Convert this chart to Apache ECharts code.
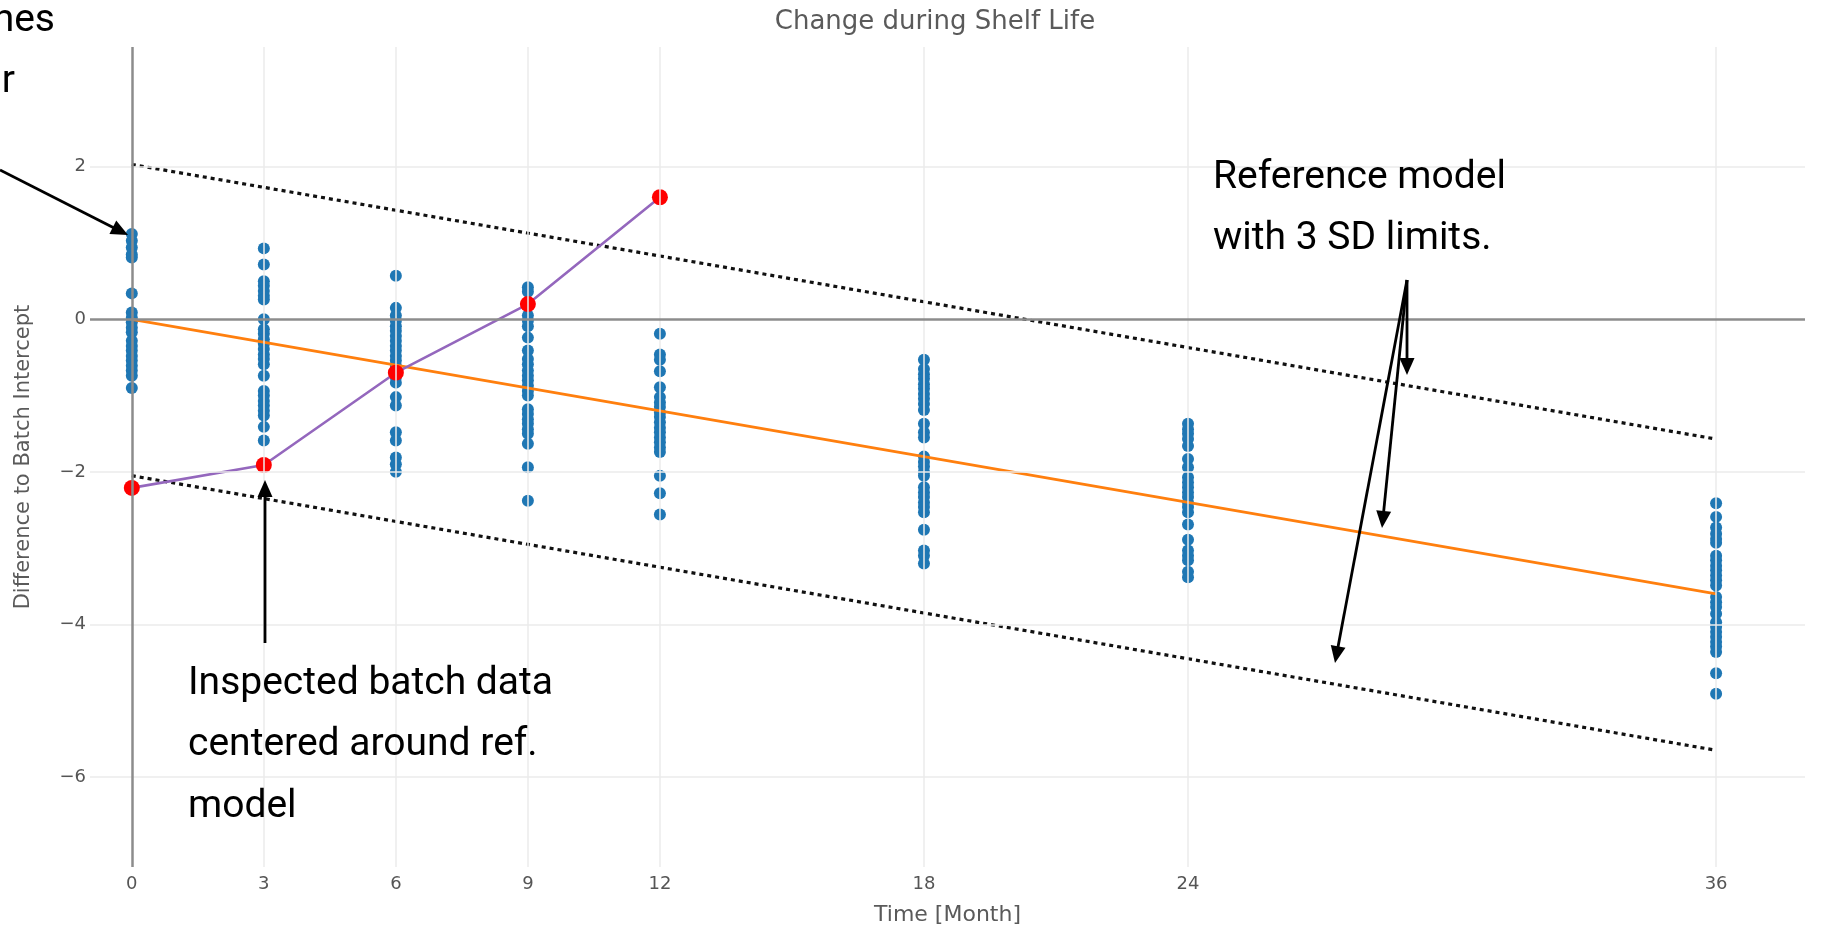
<!DOCTYPE html>
<html>
<head>
<meta charset="utf-8">
<title>Change during Shelf Life</title>
<script src="https://cdn.jsdelivr.net/npm/echarts@6/dist/echarts.min.js"></script>
<style>
    html, body { margin: 0; padding: 0; background: #fff; }
    #main { width: 1829px; height: 931px; }
</style>
</head>
<body>
<div id="main"></div>
<script>
// 时间点(月)
var months = [0, 3, 6, 9, 12, 18, 24, 36];

// 各时间点所有批次与批次截距之差
var month0 = [1.12, 1.03, 0.94, 0.85, 0.81, 0.34, 0.09, 0.02, -0.04, -0.11, -0.17, -0.28, -0.35, -0.41, -0.48, -0.54, -0.61, -0.67, -0.74, -0.90];
var month3 = [0.93, 0.72, 0.50, 0.44, 0.37, 0.31, 0.26, 0.00, -0.13, -0.19, -0.26, -0.32, -0.39, -0.46, -0.52, -0.59, -0.74, -0.94, -1.00, -1.07, -1.13, -1.20, -1.26, -1.41, -1.59];
var month6 = [0.57, 0.15, 0.05, -0.02, -0.09, -0.15, -0.22, -0.28, -0.35, -0.41, -0.48, -0.54, -0.61, -0.76, -0.83, -1.02, -1.13, -1.48, -1.59, -1.81, -1.90, -2.00];
var month9 = [0.42, 0.36, 0.05, -0.02, -0.09, -0.24, -0.41, -0.52, -0.59, -0.67, -0.74, -0.80, -0.87, -0.94, -1.00, -1.18, -1.24, -1.31, -1.37, -1.44, -1.50, -1.63, -1.94, -2.38];
var month12 = [-0.19, -0.46, -0.53, -0.68, -0.89, -1.02, -1.09, -1.15, -1.22, -1.28, -1.35, -1.42, -1.48, -1.55, -1.61, -1.68, -1.74, -2.05, -2.28, -2.56];
var month18 = [-0.53, -0.65, -0.72, -0.78, -0.85, -0.91, -0.98, -1.04, -1.11, -1.19, -1.37, -1.48, -1.55, -1.80, -1.87, -1.93, -2.00, -2.05, -2.20, -2.27, -2.33, -2.40, -2.46, -2.53, -2.76, -3.03, -3.10, -3.20];
var month24 = [-1.37, -1.44, -1.50, -1.57, -1.66, -1.83, -1.94, -2.07, -2.14, -2.20, -2.27, -2.33, -2.40, -2.46, -2.53, -2.69, -2.89, -3.03, -3.10, -3.16, -3.31, -3.38];
var month36 = [-2.41, -2.59, -2.73, -2.81, -2.88, -2.93, -3.10, -3.16, -3.23, -3.29, -3.36, -3.42, -3.49, -3.64, -3.71, -3.77, -3.86, -3.97, -4.03, -4.10, -4.16, -4.23, -4.29, -4.36, -4.64, -4.91];

// 参考模型及 3 SD 界限
var refMonths = [0, 36];
var refModel = [0, -3.6];
var upperLimit = [2.03, -1.57];
var lowerLimit = [-2.05, -5.65];

// 被检批次
var inspMonths = [0, 3, 6, 9, 12];
var inspValues = [-2.21, -1.91, -0.70, 0.20, 1.60];

// 刻度
var xTicks = [0, 3, 6, 9, 12, 18, 24, 36];
var yTicks = [-6, -4, -2, 0, 2];

(function () {

    var chart = echarts.init(document.getElementById('main'));

    var columns = [month0, month3, month6, month9, month12, month18, month24, month36];
    var scatterData = [];
    for (var i = 0; i < months.length; i++) {
        for (var j = 0; j < columns[i].length; j++) {
            scatterData.push([months[i], columns[i][j]]);
        }
    }

    function pairs(xs, ys) {
        var res = [];
        for (var i = 0; i < xs.length; i++) {
            res.push([xs[i], ys[i]]);
        }
        return res;
    }

    // 网格线
    var gridLines = [];
    xTicks.forEach(function (x) {
        if (x !== 0) gridLines.push({xAxis: x});
    });
    yTicks.forEach(function (y) {
        if (y !== 0) gridLines.push({yAxis: y});
    });

    // 箭头
    function arrow(x1, y1, x2, y2) {
        var dx = x2 - x1, dy = y2 - y1;
        var len = Math.sqrt(dx * dx + dy * dy);
        var ux = dx / len, uy = dy / len;
        var hl = 17, hw = 7.5;
        var bx = x2 - ux * hl, by = y2 - uy * hl;
        return [
            {
                type: 'line',
                shape: {x1: x1, y1: y1, x2: bx + ux * 2, y2: by + uy * 2},
                style: {stroke: '#000', lineWidth: 2.8},
                z: 100
            },
            {
                type: 'polygon',
                shape: {points: [[x2, y2], [bx - uy * hw, by + ux * hw], [bx + uy * hw, by - ux * hw]]},
                style: {fill: '#000'},
                z: 100
            }
        ];
    }

    function label(text, x, y, align) {
        return {
            type: 'text',
            z: 100,
            style: {
                text: text,
                x: x,
                y: y,
                fill: '#000',
                font: '39px Roboto',
                lineHeight: 61.5,
                textAlign: align || 'left',
                textVerticalAlign: 'top'
            }
        };
    }

    var graphics = [].concat(
        arrow(0, 170, 128, 235),
        arrow(265, 643, 265, 480),
        arrow(1407, 280, 1407, 375),
        arrow(1407, 280, 1382, 528),
        arrow(1407, 280, 1335, 663),
        [
            label('hes', 55, -10, 'right'),
            label('ir', 15, 51, 'right'),
            label('Reference model\nwith 3 SD limits.', 1213, 147),
            label('Inspected batch data\ncentered around ref.\nmodel', 188, 653)
        ]
    );

    var axisFont = 'DejaVu Sans';

    var option = {
        animation: false,
        backgroundColor: '#fff',
        title: {
            text: 'Change during Shelf Life',
            left: 930,
            top: 4,
            textAlign: 'center',
            textStyle: {
                fontFamily: axisFont,
                fontSize: 26,
                fontWeight: 'normal',
                color: '#5a5a5a'
            }
        },
        grid: {
            left: 90,
            right: 24,
            top: 47,
            bottom: 63
        },
        xAxis: {
            type: 'value',
            min: -0.95,
            max: 38.02,
            name: 'Time [Month]',
            nameLocation: 'middle',
            nameGap: 37,
            nameTextStyle: {fontFamily: axisFont, fontSize: 22, color: '#5a5a5a'},
            axisLine: {show: false},
            axisTick: {show: false},
            splitLine: {show: false},
            axisLabel: {
                customValues: xTicks,
                margin: 8,
                fontFamily: axisFont,
                fontSize: 18,
                color: '#555'
            }
        },
        yAxis: {
            type: 'value',
            min: -7.18,
            max: 3.57,
            name: 'Difference to Batch Intercept',
            nameLocation: 'middle',
            nameGap: 56,
            nameTextStyle: {fontFamily: axisFont, fontSize: 21, color: '#5a5a5a'},
            axisLine: {show: false},
            axisTick: {show: false},
            splitLine: {show: false},
            axisLabel: {
                customValues: yTicks,
                margin: 4,
                fontFamily: axisFont,
                fontSize: 18,
                color: '#555',
                formatter: function (v) {
                    return String(v).replace('-', '\u2212');
                }
            }
        },
        graphic: graphics,
        series: [
            {
                // 网格线与零线
                name: 'grid',
                type: 'scatter',
                data: [],
                silent: true,
                z: 0,
                markLine: {
                    silent: true,
                    symbol: ['none', 'none'],
                    label: {show: false},
                    animation: false,
                    data: gridLines.map(function (d) {
                        d.lineStyle = {color: '#ebebeb', width: 1.5, type: 'solid'};
                        return d;
                    }).concat([
                        {xAxis: 0, lineStyle: {color: '#8c8c8c', width: 2.5, type: 'solid'}},
                        {yAxis: 0, lineStyle: {color: '#8c8c8c', width: 2.5, type: 'solid'}}
                    ])
                }
            },
            {
                name: 'Batches',
                type: 'scatter',
                symbolSize: 12,
                z: 2,
                itemStyle: {color: '#1f77b4', opacity: 1},
                data: scatterData
            },
            {
                name: 'Upper limit',
                type: 'line',
                showSymbol: false,
                z: 3,
                lineStyle: {color: '#111', width: 3.2, type: [4, 4]},
                data: pairs(refMonths, upperLimit)
            },
            {
                name: 'Lower limit',
                type: 'line',
                showSymbol: false,
                z: 3,
                lineStyle: {color: '#111', width: 3.2, type: [4, 4]},
                data: pairs(refMonths, lowerLimit)
            },
            {
                name: 'Reference model',
                type: 'line',
                showSymbol: false,
                z: 3,
                lineStyle: {color: '#ff7f0e', width: 2.8},
                data: pairs(refMonths, refModel)
            },
            {
                name: 'Inspected batch',
                type: 'line',
                symbol: 'circle',
                symbolSize: 16,
                z: 4,
                lineStyle: {color: '#9467bd', width: 2.6},
                itemStyle: {color: '#ff0000', borderWidth: 0},
                data: pairs(inspMonths, inspValues)
            }
        ]
    };

    chart.setOption(option);
})();
</script>
</body>
</html>
